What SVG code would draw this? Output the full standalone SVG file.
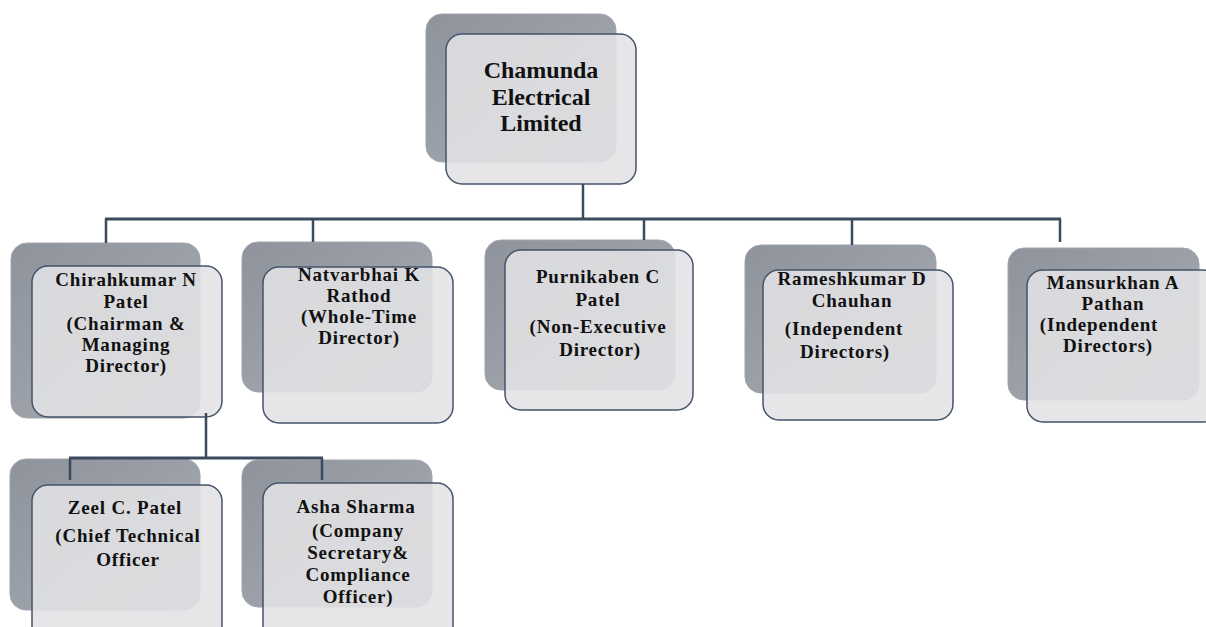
<svg xmlns="http://www.w3.org/2000/svg" width="1206" height="627" viewBox="0 0 1206 627">
<defs>
<linearGradient id="backGrad" x1="0" y1="0" x2="1" y2="1">
<stop offset="0" stop-color="#8e939c"/>
<stop offset="1" stop-color="#a9adb4"/>
</linearGradient>
<style>
.back{fill:url(#backGrad);stroke:#a0a4ab;stroke-width:1}
.front{fill:#e3e3e5;fill-opacity:0.88;stroke:#44546a;stroke-width:1.5}
.t{font-family:"Liberation Serif","Times New Roman",serif;font-weight:bold;fill:#111;text-anchor:middle}
.t19{font-size:19px;letter-spacing:0.8px}
.t24{font-size:24px}
.conn{stroke:#3b4a5f;fill:none}
</style>
</defs>
<rect width="1206" height="627" fill="#ffffff"/>

<g id="node-chamunda">
<rect class="back" x="426" y="14" width="190" height="148" rx="16"/>
<rect class="front" x="446" y="34" width="190" height="150" rx="16"/>
<text class="t t24" x="541" y="78">Chamunda</text>
<text class="t t24" x="541" y="105">Electrical</text>
<text class="t t24" x="541" y="131">Limited</text>
</g>

<g id="node-chirahkumar">
<rect class="back" x="11" y="243" width="189" height="175" rx="16"/>
<rect class="front" x="32" y="266" width="190" height="151" rx="16"/>
<text class="t t19" x="126" y="286">Chirahkumar N</text>
<text class="t t19" x="126" y="308">Patel</text>
<text class="t t19" x="126" y="330">(Chairman &amp;</text>
<text class="t t19" x="126" y="351">Managing</text>
<text class="t t19" x="126" y="372">Director)</text>
</g>

<g id="node-natvarbhai">
<rect class="back" x="242" y="242" width="190" height="150" rx="16"/>
<rect class="front" x="263" y="267" width="190" height="156" rx="16"/>
<text class="t t19" x="359" y="281">Natvarbhai K</text>
<text class="t t19" x="359" y="302">Rathod</text>
<text class="t t19" x="359" y="323">(Whole-Time</text>
<text class="t t19" x="359" y="344">Director)</text>
</g>

<g id="node-purnikaben">
<rect class="back" x="485" y="240" width="190" height="150" rx="16"/>
<rect class="front" x="505" y="250" width="188" height="160" rx="16"/>
<text class="t t19" x="598" y="283">Purnikaben C</text>
<text class="t t19" x="598" y="306">Patel</text>
<text class="t t19" x="598" y="333">(Non-Executive</text>
<text class="t t19" x="600" y="356">Director)</text>
</g>

<g id="node-rameshkumar">
<rect class="back" x="745" y="245" width="191" height="148" rx="16"/>
<rect class="front" x="763" y="270" width="190" height="150" rx="16"/>
<text class="t t19" x="852" y="285">Rameshkumar D</text>
<text class="t t19" x="852" y="307">Chauhan</text>
<text class="t t19" x="844" y="335">(Independent</text>
<text class="t t19" x="845" y="358">Directors)</text>
</g>

<g id="node-mansurkhan">
<rect class="back" x="1008" y="248" width="191" height="152" rx="16"/>
<rect class="front" x="1027" y="270" width="192" height="152" rx="16"/>
<text class="t t19" x="1113" y="289">Mansurkhan A</text>
<text class="t t19" x="1113" y="310">Pathan</text>
<text class="t t19" x="1099" y="331">(Independent</text>
<text class="t t19" x="1108" y="352">Directors)</text>
</g>

<g id="node-zeel">
<rect class="back" x="10" y="459" width="190" height="151" rx="16"/>
<rect class="front" x="32" y="485" width="190" height="160" rx="16"/>
<text class="t t19" x="125" y="514">Zeel C. Patel</text>
<text class="t t19" x="128" y="542">(Chief Technical</text>
<text class="t t19" x="128" y="566">Officer</text>
</g>

<g id="node-asha">
<rect class="back" x="242" y="460" width="190" height="147" rx="16"/>
<rect class="front" x="263" y="483" width="190" height="160" rx="16"/>
<text class="t t19" x="356" y="513">Asha Sharma</text>
<text class="t t19" x="358" y="537">(Company</text>
<text class="t t19" x="358" y="559">Secretary&amp;</text>
<text class="t t19" x="358" y="581">Compliance</text>
<text class="t t19" x="358" y="603">Officer)</text>
</g>

<g id="connectors">
<line class="conn" x1="583" y1="184" x2="583" y2="219" stroke-width="2.5"/>
<line class="conn" x1="105" y1="219" x2="1061" y2="219" stroke-width="3"/>
<line class="conn" x1="106" y1="219" x2="106" y2="243" stroke-width="2.5"/>
<line class="conn" x1="313" y1="219" x2="313" y2="242" stroke-width="2.5"/>
<line class="conn" x1="644" y1="219" x2="644" y2="240" stroke-width="2.5"/>
<line class="conn" x1="852" y1="219" x2="852" y2="245" stroke-width="2.5"/>
<line class="conn" x1="1060" y1="219" x2="1060" y2="242" stroke-width="2.5"/>
<line class="conn" x1="206" y1="413" x2="206" y2="458" stroke-width="2.5"/>
<line class="conn" x1="69" y1="458" x2="323" y2="458" stroke-width="3"/>
<line class="conn" x1="70" y1="458" x2="70" y2="480" stroke-width="2.5"/>
<line class="conn" x1="322" y1="458" x2="322" y2="480" stroke-width="2.5"/>
</g>
</svg>
